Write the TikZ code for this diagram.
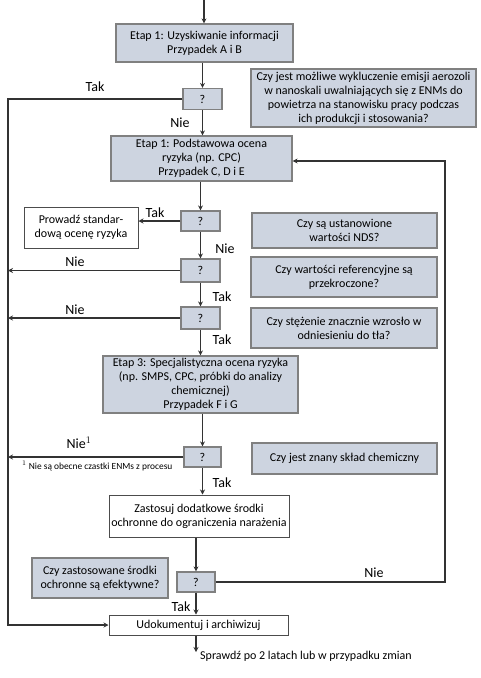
\documentclass[tikz,border=0pt]{standalone}
\usepackage{fontspec}
\setmainfont{Carlito}
\usetikzlibrary{arrows.meta}

\definecolor{boxblue}{HTML}{CDD4E0}

\begin{document}
\begin{tikzpicture}[x=1pt, y=-1pt,
    every node/.style={font=\fontsize{12}{14}\selectfont, align=center, inner sep=0pt},
    stagebox/.style={draw=black!50, fill=boxblue, line width=1.2pt},
    qbox/.style={draw=black!50, fill=boxblue, line width=1.2pt, minimum width=39, minimum height=21},
    infobox/.style={draw=black!50, fill=boxblue, line width=1.2pt},
    whitebox/.style={draw=black!70, fill=white, line width=1pt},
    lbl/.style={font=\fontsize{14}{16}\selectfont},
    arr/.style={draw=black!80, line width=1.2pt, -{Stealth[length=5pt, width=5pt]}}]
    \useasboundingbox (0,0) rectangle (480,678);

    % 1. Glowna kolumna: etapy i pytania
    \node[stagebox, minimum width=177, minimum height=38] (etap1) at (204.5,43)
        {Etap 1: Uzyskiwanie informacji\\Przypadek A i B};
    \node[qbox] (q1) at (202.5,99) {?};
    \node[stagebox, minimum width=181, minimum height=45] (etap2) at (201.5,158.5)
        {Etap 1: Podstawowa ocena\\ryzyka (np. CPC)\\Przypadek C, D i E};
    \node[qbox, minimum height=20] (q2) at (200.5,221) {?};
    \node[whitebox, minimum width=114, minimum height=41] (std) at (81,227.5)
        {Prowadź standar-\\dową ocenę ryzyka};
    \node[qbox, minimum height=23] (q3) at (200.5,270.5) {?};
    \node[qbox, minimum height=22] (q4) at (200.5,318) {?};
    \node[stagebox, minimum width=195, minimum height=57] (etap3) at (200.5,384.5)
        {Etap 3: Specjalistyczna ocena ryzyka\\(np. SMPS, CPC, próbki do analizy\\chemicznej)\\Przypadek F i G};
    \node[qbox, minimum width=37, minimum height=20] (q5) at (202.5,457) {?};
    \node[whitebox, minimum width=180, minimum height=42] (ochr) at (199,516)
        {Zastosuj dodatkowe środki\\ochronne do ograniczenia narażenia};
    \node[qbox, minimum width=38, minimum height=20] (q6) at (196,582) {?};
    \node[whitebox, minimum width=179, minimum height=20] (dok) at (198.5,625)
        {Udokumentuj i archiwizuj};

    % 2. Pola z pytaniami
    \node[infobox, minimum width=225, minimum height=58] (info1) at (363.5,98)
        {Czy jest możliwe wykluczenie emisji aerozoli\\w nanoskali uwalniających się z ENMs do\\powietrza na stanowisku pracy podczas\\ich produkcji i stosowania?};
    \node[infobox, minimum width=185, minimum height=35] (info2) at (344.5,230.5)
        {Czy są ustanowione\\wartości NDS?};
    \node[infobox, minimum width=186, minimum height=40] (info3) at (344,277)
        {Czy wartości referencyjne są\\przekroczone?};
    \node[infobox, minimum width=186, minimum height=40] (info4) at (344,328)
        {Czy stężenie znacznie wzrosło w\\odniesieniu do tła?};
    \node[infobox, minimum width=185, minimum height=31] (info5) at (344.5,458.5)
        {Czy jest znany skład chemiczny};
    \node[infobox, minimum width=136, minimum height=40] (info6) at (100,578)
        {Czy zastosowane środki\\ochronne są efektywne?};

    % 3. Punkty pomocnicze
    \coordinate (start) at (204,0);
    \coordinate (left) at (8,0);
    \coordinate (back) at (445,161);
    \coordinate (end) at (196,652);

    % 4. Strzalki
    \draw[arr] (start) -- (start |- etap1.north);
    \draw[arr] (q1.north |- etap1.south) -- (q1.north);
    \draw[arr] (q1.west) -- (q1.west -| left) |- (dok.west);
    \draw[arr] (q1.south) -- (q1.south |- etap2.north);
    \draw[arr] (q2.north |- etap2.south) -- (q2.north);
    \draw[arr] (q2.west) -- (q2.west -| std.east);
    \draw[arr] (q2.south) -- (q3.north);
    \draw[arr] (q3.west) -- (q3.west -| left);
    \draw[arr] (q3.south) -- (q4.north);
    \draw[arr] (q4.west) -- (q4.west -| left);
    \draw[arr] (q4.south) -- (q4.south |- etap3.north);
    \draw[arr] (q5.north |- etap3.south) -- (q5.north);
    \draw[arr] (q5.west) -- (q5.west -| left);
    \draw[arr] (q5.south) -- (q5.south |- ochr.north);
    \draw[arr] (q6.north |- ochr.south) -- (q6.north);
    \draw[arr] (q6.east) -| (back) -- (back -| etap2.east);
    \draw[arr] (q6.south) -- (q6.south |- dok.north);
    \draw[arr] (end |- dok.south) -- (end);

    % 5. Etykiety
    \node[lbl] (t1) at (95,87) {Tak};
    \node[lbl] (n1) at (180,123) {Nie};
    \node[lbl] (t2) at (155,213) {Tak};
    \node[lbl] (n2) at (225,249) {Nie};
    \node[lbl] (n3) at (75,262) {Nie};
    \node[lbl] (t3) at (222,297) {Tak};
    \node[lbl] (n4) at (75,310) {Nie};
    \node[lbl] (t4) at (222,340) {Tak};
    \node[lbl] (n5) at (79,443) {Nie$^{1}$};
    \node[lbl] (t5) at (222,483) {Tak};
    \node[lbl] (n6) at (374,573) {Nie};
    \node[lbl] (t6) at (181,607) {Tak};
    \node[anchor=west, font=\fontsize{9.4}{11}\selectfont] (foot) at (22,466)
        {$^{1}$ Nie są obecne czastki ENMs z procesu};
    \node[anchor=west] (check) at (200,656) {Sprawdź po 2 latach lub w przypadku zmian};
\end{tikzpicture}
\end{document}
